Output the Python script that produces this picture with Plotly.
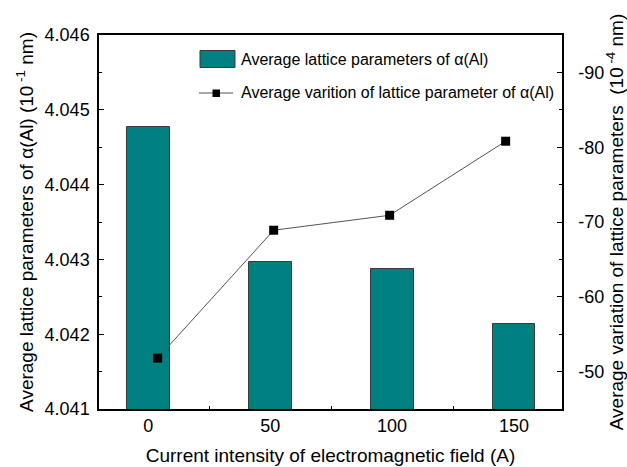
import plotly.graph_objects as go

# Current intensity of the electromagnetic field (A)
current = [0, 50, 100, 150]
# Average lattice parameter of alpha(Al), 10^-1 nm
lattice_param = [4.04477, 4.04296, 4.04287, 4.04213]
# Average variation of the lattice parameter, 10^-4 nm
lattice_variation = [-51.8, -68.9, -70.9, -80.8]

x_ticks = [0, 50, 100, 150]
left_ticks = [4.041, 4.042, 4.043, 4.044, 4.045, 4.046]
right_ticks = [-50, -60, -70, -80, -90]

FONT = "Liberation Sans, Arial, sans-serif"
TEAL = "#008080"

fig = go.Figure()

fig.add_trace(go.Bar(
    x=current, y=lattice_param, width=17.6,
    marker=dict(color=TEAL, line=dict(color="#3a3a3a", width=1)),
    xaxis="x", yaxis="y", showlegend=False,
))

fig.add_trace(go.Scatter(
    x=current, y=lattice_variation, mode="lines+markers",
    line=dict(color="#555555", width=1),
    marker=dict(symbol="square", size=9, color="black"),
    xaxis="x2", yaxis="y2", showlegend=False,
))

axis_font = dict(family=FONT, size=18, color="black")

fig.update_layout(
    width=627, height=467,
    margin=dict(l=99, r=65, t=35, b=58, autoexpand=False),
    paper_bgcolor="white", plot_bgcolor="white",
    font=dict(family=FONT, color="black"),
    bargap=0,
    xaxis=dict(
        range=[-20.2, 169.7], tickvals=x_ticks, ticktext=[str(v) for v in x_ticks],
        ticks="", showline=True, linecolor="black", linewidth=1.5, mirror=True,
        showgrid=False, zeroline=False, tickfont=axis_font, automargin=False,
        minor=dict(tickvals=[25, 75, 125], ticks="inside", ticklen=3, tickcolor="black"),
        title=dict(text="Current intensity of electromagnetic field (A)",
                   font=dict(family=FONT, size=19), standoff=13),
    ),
    xaxis2=dict(
        range=[-25.3, 174.3], overlaying="x", visible=False,
    ),
    yaxis=dict(
        range=[4.041, 4.046], tickvals=left_ticks,
        ticktext=[f"{v:.3f}" for v in left_ticks],
        ticks="inside", ticklen=5, tickcolor="black",
        showline=True, linecolor="black", linewidth=1.5,
        showgrid=False, zeroline=False, tickfont=axis_font, automargin=False,
        ticklabelstandoff=4,
        minor=dict(dtick=0.0005, tick0=4.041, ticks="inside", ticklen=3, tickcolor="black"),
        title=dict(text="Average lattice parameters of \u03b1(Al) (10<sup> -1</sup> nm)",
                   font=dict(family=FONT, size=19), standoff=6),
    ),
    yaxis2=dict(
        range=[-45, -95], tickvals=right_ticks,
        ticktext=[str(v) for v in right_ticks],
        overlaying="y", side="right",
        ticks="inside", ticklen=5, tickcolor="black",
        showline=True, linecolor="black", linewidth=1.5,
        showgrid=False, zeroline=False, tickfont=axis_font, automargin=False,
        ticklabelstandoff=11,
        minor=dict(dtick=5, tick0=-45, ticks="inside", ticklen=3, tickcolor="black"),
        title=dict(text="Average variation of lattice parameters  (10<sup> -4</sup> nm)",
                   font=dict(family=FONT, size=19), standoff=10),
    ),
)

# Legend drawn in paper coordinates
def px_x(v):
    return (v - 99) / (562 - 99)

def px_y(v):
    return (409.5 - v) / (409.5 - 35.5)

fig.add_shape(type="rect", xref="paper", yref="paper",
              x0=px_x(200), x1=px_x(235), y0=px_y(68), y1=px_y(51),
              fillcolor=TEAL, line=dict(color="#3a3a3a", width=1))
fig.add_shape(type="line", xref="paper", yref="paper",
              x0=px_x(199), x1=px_x(233), y0=px_y(93.5), y1=px_y(93.5),
              line=dict(color="#555555", width=1))
fig.add_shape(type="rect", xref="paper", yref="paper",
              x0=px_x(212.5), x1=px_x(220), y0=px_y(97.5), y1=px_y(90),
              fillcolor="black", line=dict(color="black", width=0))
fig.add_annotation(xref="paper", yref="paper", x=px_x(239), y=px_y(59.5),
                   xanchor="left", yanchor="middle", showarrow=False,
                   text="Average lattice parameters of \u03b1(Al)",
                   font=dict(family=FONT, size=16, color="black"))
fig.add_annotation(xref="paper", yref="paper", x=px_x(239), y=px_y(93.5),
                   xanchor="left", yanchor="middle", showarrow=False,
                   text="Average varition of lattice parameter of \u03b1(Al)",
                   font=dict(family=FONT, size=16, color="black"))

fig.write_html("out.html")
